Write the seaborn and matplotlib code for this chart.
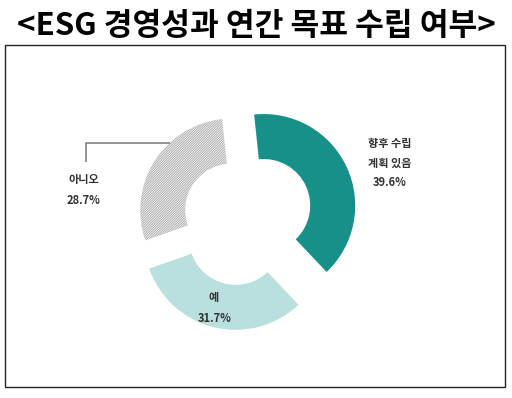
import matplotlib
matplotlib.use('Agg')
import matplotlib.pyplot as plt
import seaborn as sns
from matplotlib.patches import Rectangle

sns.set_theme(style="white")
plt.rcParams['font.family'] = ['Noto Sans CJK KR', 'DejaVu Sans']
plt.rcParams['hatch.linewidth'] = 0.6

title = '<ESG 경영성과 연간 목표 수립 여부>'
categories = ['향후 수립\n계획 있음', '예', '아니오']
values = [39.6, 31.7, 28.7]
colors = ['#17908a', '#b9dfde', '#fafafa']

W, H = 512, 398
fig = plt.figure(figsize=(5.12, 3.98), dpi=100)
ax = fig.add_axes([0, 0, 1, 1])


def Y(y):
    return H - y


wedges, _ = ax.pie(values, colors=colors, startangle=96, counterclock=False,
                   radius=91.5, center=(241, Y(216)), explode=[25, 23, 11],
                   wedgeprops=dict(width=45, linewidth=0), frame=True)
wedges[2].set_edgecolor('#a2a2a2')
wedges[2].set_hatch('/' * 14)
wedges[2].set_linewidth(0)

ax.set_xlim(0, W)
ax.set_ylim(0, H)
ax.set_aspect('auto')
ax.axis('off')

ax.add_patch(Rectangle((5, Y(387)), 500, 342, fill=False, edgecolor='#222222', lw=1.0))
ax.plot([86, 86, 170], [Y(162), Y(143), Y(143)], color='#777777', lw=1.1, solid_capstyle='butt')

tkw = dict(fontsize=8, weight='bold', color='#333333', ha='center', va='center')
l1, l2 = categories[0].split('\n')
ax.text(390, Y(143), l1, **tkw)
ax.text(390, Y(163), l2, **tkw)
ax.text(390, Y(183), f'{values[0]:.1f}%', **tkw)
ax.text(214, Y(297), categories[1], **tkw)
ax.text(215, Y(318), f'{values[1]:.1f}%', **tkw)
ax.text(84, Y(179), categories[2], **tkw)
ax.text(84, Y(200), f'{values[2]:.1f}%', **tkw)

ax.text(256, Y(26), title, fontsize=22.5, weight='bold', color='black', ha='center', va='center')

fig.savefig('out.png', dpi=100)
